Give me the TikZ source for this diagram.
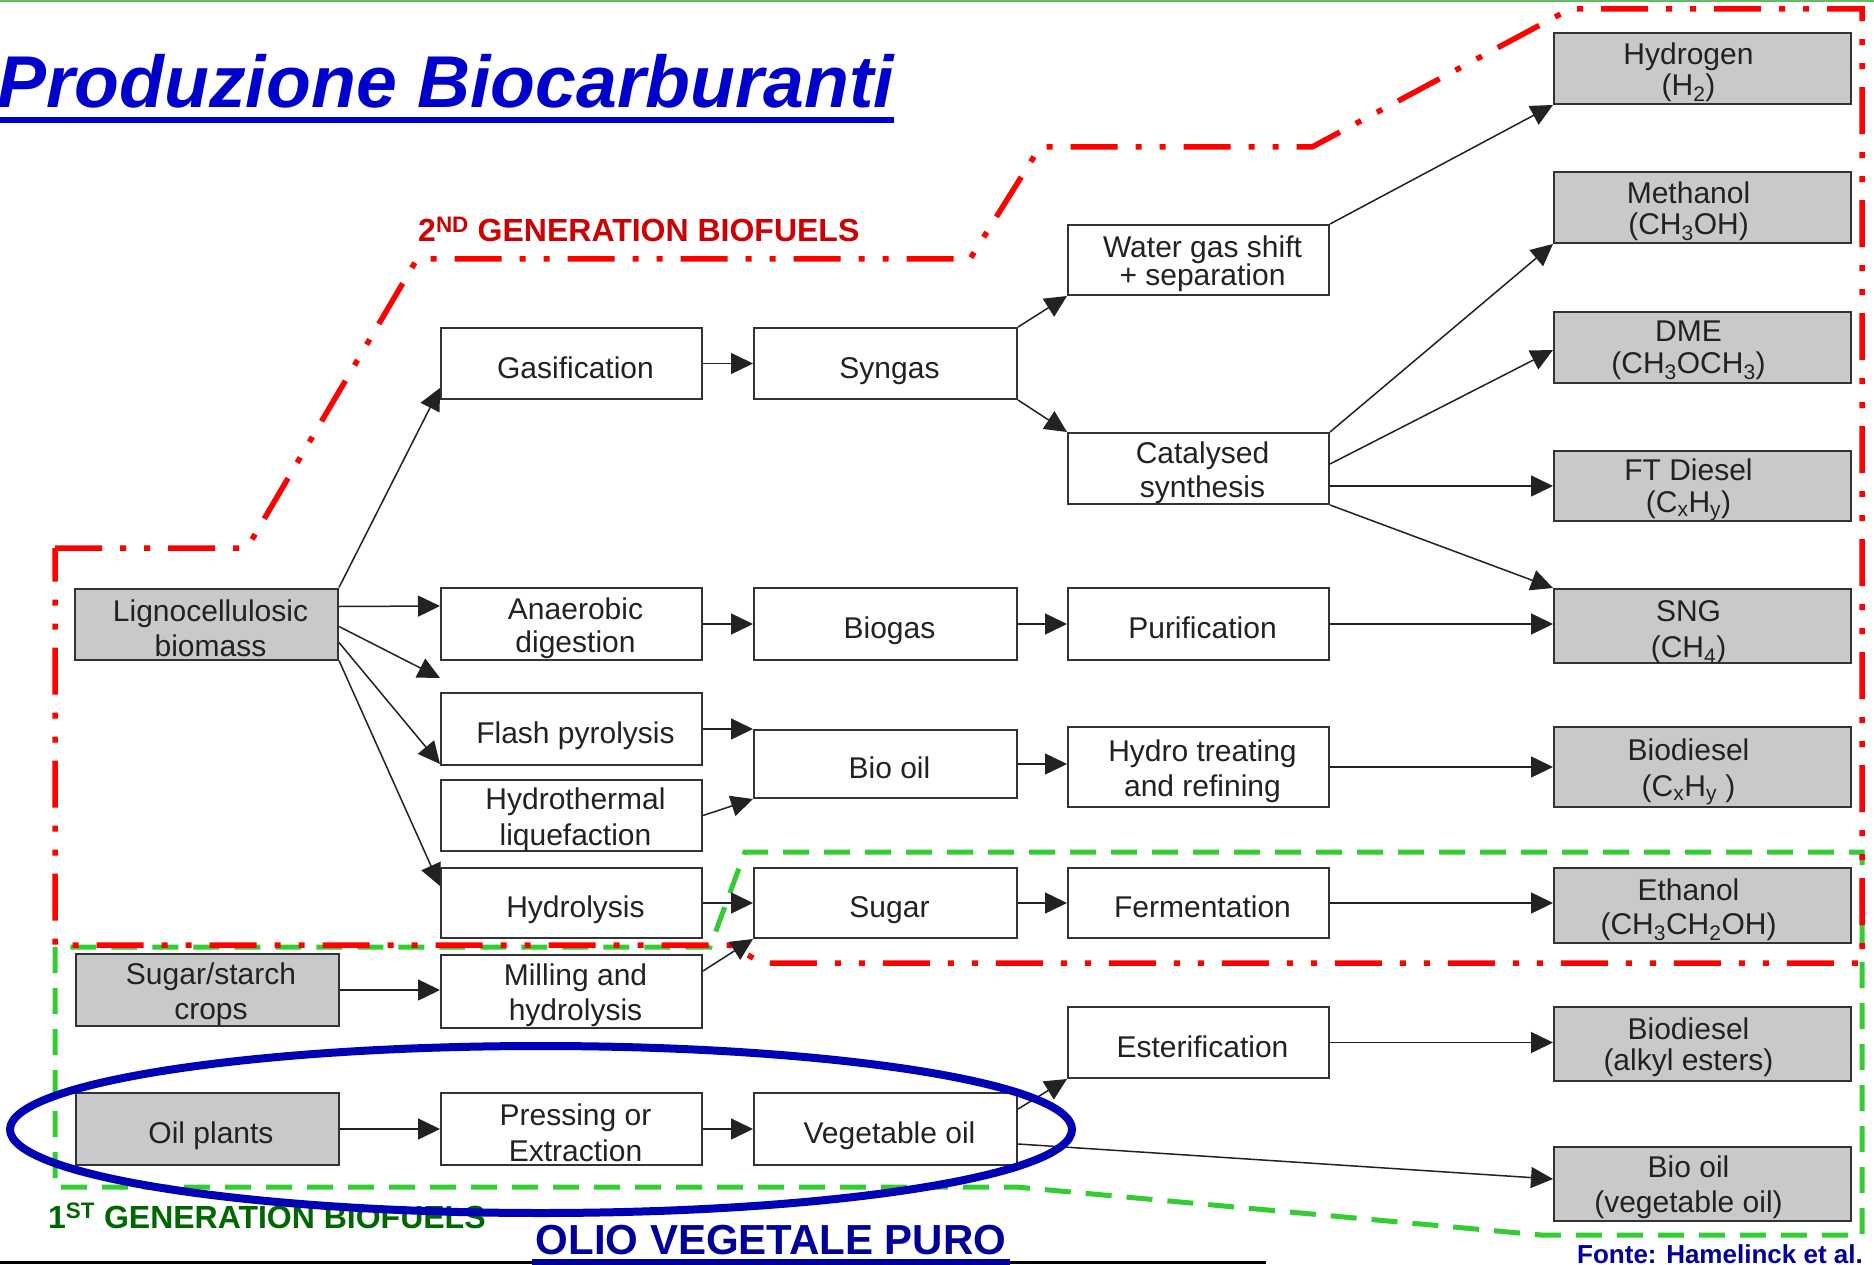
\documentclass[tikz,border=0pt]{standalone}
\usepackage{fontspec}
\setmainfont{Liberation Sans}
\usetikzlibrary{arrows.meta,calc}
\definecolor{boxgrey}{HTML}{C8C9CB}
\definecolor{boxline}{HTML}{333333}
\definecolor{txt}{HTML}{222222}
\definecolor{redline}{HTML}{FF0000}
\definecolor{redtext}{HTML}{CC0000}
\definecolor{greenline}{HTML}{33CC33}
\definecolor{greentext}{HTML}{006600}
\definecolor{titleblue}{HTML}{0000CC}
\definecolor{ellblue}{HTML}{0000B4}
\definecolor{navy}{HTML}{000099}
\definecolor{topgreen}{HTML}{66BB66}
\begin{document}
\begin{tikzpicture}[x=1pt,y=-1pt,
  pbox/.style={draw=boxline, line width=2pt, fill=white, inner sep=0pt, minimum height=71pt},
  gbox/.style={pbox, fill=boxgrey},
  wA/.style={minimum width=263pt}, wB/.style={minimum width=261pt},
  wC/.style={minimum width=263pt}, wD/.style={minimum width=261pt},
  wE/.style={minimum width=297pt},
  btxt/.style={inner sep=0pt, align=center, text=txt, font=\fontsize{30}{34}\selectfont},
  % single-line text, columns A-D
  ts/.style={label={[btxt, text height=22pt, text depth=7pt, xshift=4pt, yshift=-7pt]center:{#1}}},
  % two-line text, columns A-D: {leading}{text}
  td/.style n args={2}{label={[btxt, font=\fontsize{30}{#1}\selectfont, xshift=4pt, yshift=-4pt]center:{#2}}},
  % two-line text, column E: {leading}{yshift}{text}
  te/.style n args={3}{label={[btxt, font=\fontsize{30}{#1}\selectfont, xshift=-14pt, yshift=#2]center:{#3}}},
  arr/.style={draw=txt, line width=1.5pt, -{Triangle[length=22pt,width=21pt]}},
  redb/.style={draw=redline, line width=5.5pt, dash pattern=on 47pt off 18pt on 6pt off 18pt on 6pt off 18pt},
  greenb/.style={draw=greenline, line width=5pt, dash pattern=on 26pt off 15pt},
]
\useasboundingbox (0,0) rectangle (1874,1265);
\fill[white] (0,0) rectangle (1874,1265);
\draw[topgreen, line width=2pt] (0,1) -- (1874,1);

% title
\node[anchor=base west, inner sep=0pt, text=titleblue, font=\fontsize{73.4}{80}\selectfont\bfseries\itshape] (title) at (-3,108) {Produzione Biocarburanti};
\fill[titleblue] (0,117) rectangle (894,123);

% generation labels
\node[anchor=base west, inner sep=0pt, text=redtext, font=\fontsize{32}{34}\selectfont\bfseries] (gen2) at (418,242) {2\textsuperscript{ND} GENERATION BIOFUELS};
\node[anchor=base west, inner sep=0pt, text=greentext, font=\fontsize{32}{34}\selectfont\bfseries] (gen1) at (48,1228) {1\textsuperscript{ST} GENERATION BIOFUELS};

% green boundary (1st generation)
\draw[greenb] (55,947) -- (55,1187) -- (1016,1187) -- (1541,1235) -- (1862,1235) -- (1862,852) -- (745,852) -- (710,947) -- cycle;
% red boundary (2nd generation)
\draw[redb] (55,548) -- (247,548) -- (417,259) -- (970,259) -- (1040,147) -- (1312,147) -- (1570,9) -- (1862,9) -- (1862,963) -- (762,963) -- (730,945) -- (55,945) -- cycle;

% column A
\node[gbox,wA,td={35}{Lignocellulosic\\biomass}] (lig) at (206.5,624) {};
\node[gbox,wA,minimum height=72pt,td={35}{Sugar/starch\\crops}] (ssc) at (207,990) {};
\node[gbox,wA,minimum height=72pt,ts={Oil plants}] (oil) at (207,1129) {};
% column B
\node[pbox,wB,ts={Gasification}] (gas) at (571.5,363.5) {};
\node[pbox,wB,minimum height=72pt,td={33}{Anaerobic\\digestion}] (ana) at (571.5,624) {};
\node[pbox,wB,minimum height=72pt,ts={Flash pyrolysis}] (fla) at (571.5,729) {};
\node[pbox,wB,td={36}{Hydrothermal\\liquefaction}] (hth) at (571.5,815.5) {};
\node[pbox,wB,minimum height=70pt,ts={Hydrolysis}] (hyl) at (571.5,903) {};
\node[pbox,wB,minimum height=73pt,td={35}{Milling and\\hydrolysis}] (mil) at (571.5,991.5) {};
\node[pbox,wB,minimum height=72pt,td={36}{Pressing or\\Extraction}] (prs) at (571.5,1129) {};
% column C
\node[pbox,wC,ts={Syngas}] (syn) at (885.5,363.5) {};
\node[pbox,wC,minimum height=72pt,ts={Biogas}] (bgs) at (885.5,624) {};
\node[pbox,wC,minimum height=68pt,ts={Bio oil}] (bio) at (885.5,764) {};
\node[pbox,wC,minimum height=70pt,ts={Sugar}] (sug) at (885.5,903) {};
\node[pbox,wC,minimum height=72pt,ts={Vegetable oil}] (veg) at (885.5,1129) {};
% column D
\node[pbox,wD,minimum height=70pt,td={28}{Water gas shift\\+ separation}] (wgs) at (1198.5,260) {};
\node[pbox,wD,td={34}{Catalysed\\synthesis}] (cat) at (1198.5,468.5) {};
\node[pbox,wD,minimum height=72pt,ts={Purification}] (pur) at (1198.5,624) {};
\node[pbox,wD,minimum height=80pt,td={35}{Hydro treating\\and refining}] (htr) at (1198.5,767) {};
\node[pbox,wD,minimum height=70pt,ts={Fermentation}] (fer) at (1198.5,903) {};
\node[pbox,wD,ts={Esterification}] (est) at (1198.5,1042.5) {};
% column E
\node[gbox,wE,te={31}{-4pt}{Hydrogen\\(H\textsubscript{2})}] (hyd) at (1702.5,68.5) {};
\node[gbox,wE,te={31}{-4pt}{Methanol\\(CH\textsubscript{3}OH)}] (met) at (1702.5,207.5) {};
\node[gbox,wE,te={32}{-3pt}{DME\\(CH\textsubscript{3}OCH\textsubscript{3})}] (dme) at (1702.5,347.5) {};
\node[gbox,wE,minimum height=70pt,te={32}{-4pt}{FT Diesel\\(C\textsubscript{x}H\textsubscript{y})}] (ftd) at (1702.5,486) {};
\node[gbox,wE,minimum height=74pt,te={36}{-6pt}{SNG\\(CH\textsubscript{4})}] (sng) at (1702.5,626) {};
\node[gbox,wE,minimum height=80pt,te={36}{-5pt}{Biodiesel\\(C\textsubscript{x}H\textsubscript{y} )}] (bd1) at (1702.5,767) {};
\node[gbox,wE,minimum height=75pt,te={34}{-4pt}{Ethanol\\(CH\textsubscript{3}CH\textsubscript{2}OH)}] (eth) at (1702.5,905.5) {};
\node[gbox,wE,minimum height=74pt,te={31}{-3pt}{Biodiesel\\(alkyl esters)}] (bd2) at (1702.5,1044) {};
\node[gbox,wE,minimum height=74pt,te={35}{-3pt}{Bio oil\\(vegetable oil)}] (bov) at (1702.5,1184) {};

% connectors from lignocellulosic biomass
\coordinate (gapend) at ($(ana.south west)+(0,17)$);
\draw[arr] (lig.north east) -- ($(gas.south west)+(0,-12)$);
\draw[arr] ($(lig.north east)+(0,19)$) -- ($(ana.north west)+(0,19)$);
\draw[arr] ($(lig.north east)+(0,39)$) -- (gapend);
\draw[arr] ($(lig.north east)+(0,55)$) -- ($(fla.south west)+(0,-2)$);
\draw[arr] (lig.south east) -- ($(hyl.north west)+(0,19)$);
% syngas route
\draw[arr] (gas.east) -- (syn.west);
\draw[arr] (syn.north east) -- (wgs.south west);
\draw[arr] (syn.south east) -- (cat.north west);
\draw[arr] (wgs.north east) -- (hyd.south west);
\draw[arr] (cat.north east) -- (met.south west);
\draw[arr] ($(cat.north east)+(0,32)$) -- ($(dme.south west)+(0,-34)$);
\draw[arr] (cat.east |- ftd.west) -- (ftd.west);
\draw[arr] (cat.south east) -- (sng.north west);
% biogas route
\draw[arr] (ana.east) -- (bgs.west);
\draw[arr] (bgs.east) -- (pur.west);
\draw[arr] (pur.east) -- (pur.east -| sng.west);
% bio oil route
\draw[arr] (fla.east) -- (fla.east -| bio.west);
\draw[arr] (hth.east) -- (bio.south west);
\draw[arr] (bio.east) -- (bio.east -| htr.west);
\draw[arr] (htr.east) -- (bd1.west);
% sugar route
\draw[arr] (hyl.east) -- (sug.west);
\draw[arr] ($(mil.north east)+(0,17)$) -- (sug.south west);
\draw[arr] (sug.east) -- (fer.west);
\draw[arr] (fer.east) -- (fer.east -| eth.west);
\draw[arr] (ssc.east) -- (ssc.east -| mil.west);
% oil route
\draw[arr] (oil.east) -- (prs.west);
\draw[arr] (prs.east) -- (veg.west);
\draw[arr] ($(veg.north east)+(0,17)$) -- (est.south west);
\draw[arr] (est.east) -- (est.east -| bd2.west);
\draw[arr] ($(veg.north east)+(0,52)$) -- ($(bov.north west)+(0,33)$);

% blue ellipse
\draw[ellblue, line width=8pt] (541,1129.5) ellipse [x radius=531, y radius=83.5];

% bottom texts
\draw[black, line width=3pt] (0,1262) -- (1266,1262);
\node[anchor=base, inner sep=0pt, text=navy, font=\fontsize{42}{44}\selectfont\bfseries] (olio) at (771,1254) {OLIO VEGETALE PURO};
\fill[navy] (532,1259) rectangle (1010,1265);
\node[anchor=base west, inner sep=0pt, text=navy, font=\fontsize{26}{28}\selectfont\bfseries] (fonte) at (1577,1263) {Fonte: Hamelinck et al.};
\end{tikzpicture}
\end{document}
